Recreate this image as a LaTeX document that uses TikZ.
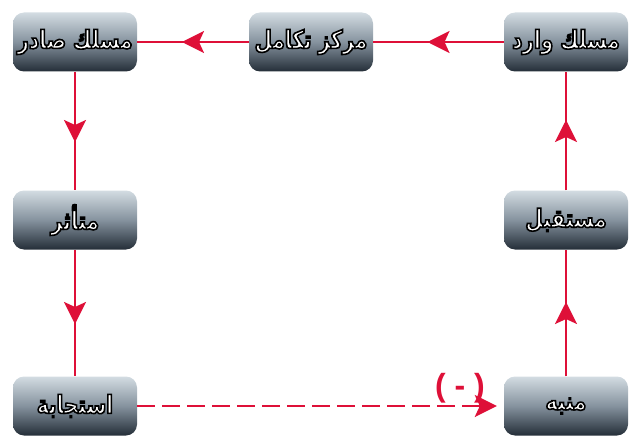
\documentclass[tikz,border=0pt]{standalone}
\usepackage{fontspec}
\newfontfamily\arabicfont[Script=Arabic,FakeStretch=0.8]{DejaVu Sans Bold}
\newfontfamily\labfont{Liberation Sans}
\TeXXeTstate=1
\usetikzlibrary{arrows.meta,decorations.markings}
\definecolor{linered}{HTML}{DE1038}
\definecolor{boxtop}{HTML}{D3DCE2}
\definecolor{boxmid}{HTML}{85929E}
\definecolor{boxbot}{HTML}{242E38}
\newcommand\outlinedtext[1]{\special{pdf:literal direct 2 Tr 1.6 w 0 0 0 RG}#1\special{pdf:literal direct 0 Tr}}
\tikzset{
  box/.style={rounded corners=11pt, top color=boxtop, bottom color=boxbot, middle color=boxmid,
    minimum width=124pt, minimum height=59pt, inner sep=0pt, text=white,
    font=\arabicfont\fontsize{25}{28}\selectfont},
  flow/.style={draw=linered, line width=2.6pt, postaction={decorate},
    decoration={markings, mark=at position 0.5 with {\pgftransformxshift{11pt}\arrow{Stealth[length=22pt,width=22pt,inset=5pt]}}}},
  feedback/.style={draw=linered, line width=2.6pt, dash pattern=on 18pt off 7pt,
    -{Stealth[length=22pt,width=22pt,inset=5pt]}, shorten >=7pt},
  minuslabel/.style={text=linered, font=\labfont\bfseries\fontsize{32}{34}\selectfont}
}
\newcommand\artext[1]{\outlinedtext{\beginR #1\endR}}
\begin{document}
\begin{tikzpicture}[x=1pt,y=-1pt]
\useasboundingbox (0,0) rectangle (635,436);
\node[box] (efferent) at (75,42) {\artext{مسلك صادر}};
\node[box] (center) at (311,42) {\artext{مركز تكامل}};
\node[box] (afferent) at (566,42) {\artext{مسلك وارد}};
\node[box] (effector) at (75,220) {\artext{متأثر}};
\node[box] (receptor) at (566,220) {\artext{مستقبل}};
\node[box] (response) at (75,406) {\artext{استجابة}};
\node[box] (stimulus) at (566,406) {\artext{منبه}};
\draw[flow] (afferent) -- (center);
\draw[flow] (center) -- (efferent);
\draw[flow] (efferent) -- (effector);
\draw[flow] (effector) -- (response);
\draw[flow] (stimulus) -- (receptor);
\draw[flow] (receptor) -- (afferent);
\draw[feedback] (response) -- (stimulus);
\node[minuslabel] (minus) at (460,388) {( - )};
\end{tikzpicture}
\end{document}
